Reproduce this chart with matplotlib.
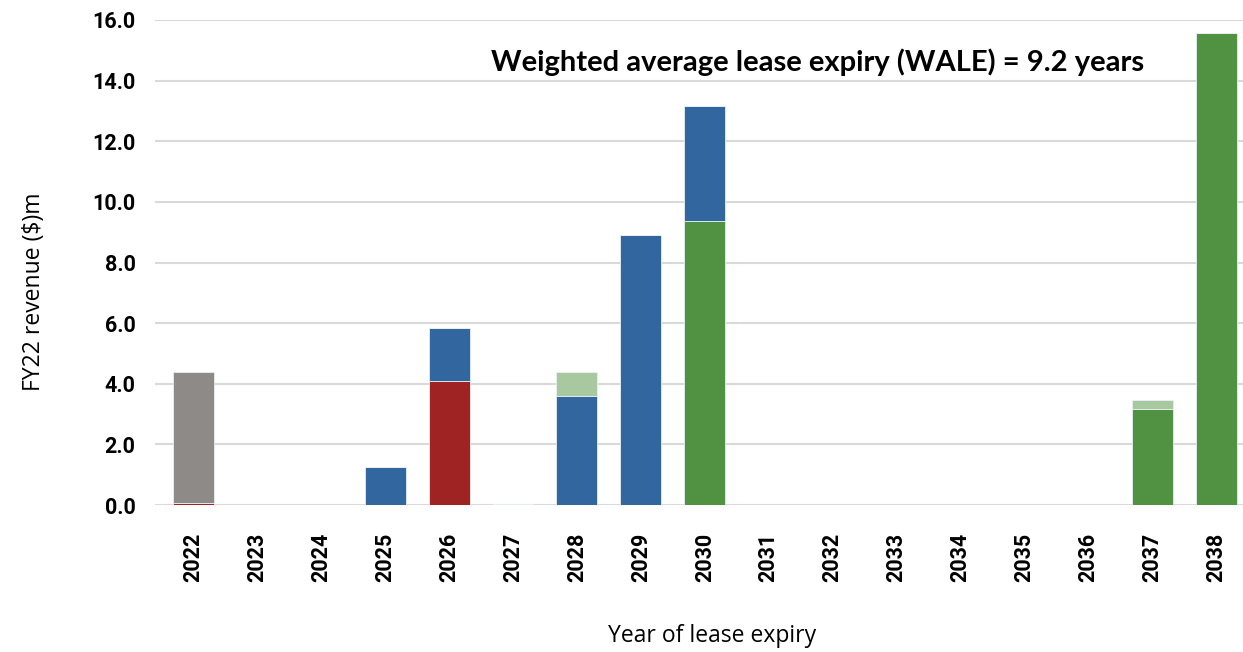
import matplotlib
matplotlib.use("Agg")
import matplotlib.pyplot as plt
import numpy as np

years = [str(y) for y in range(2022, 2039)]
red_vals =        [0.07, 0, 0, 0,    4.09, 0,    0,    0,    0,    0, 0, 0, 0, 0, 0, 0,    0]
green_vals =      [0,    0, 0, 0,    0,    0,    0,    0,    9.36, 0, 0, 0, 0, 0, 0, 3.18, 15.58]
blue_vals =       [0,    0, 0, 1.27, 1.76, 0,    3.61, 8.90, 3.81, 0, 0, 0, 0, 0, 0, 0,    0]
lightgreen_vals = [0,    0, 0, 0,    0,    0.03, 0.77, 0,    0,    0, 0, 0, 0, 0, 0, 0.28, 0]
grey_vals =       [4.33, 0, 0, 0,    0,    0,    0,    0,    0,    0, 0, 0, 0, 0, 0, 0,    0]
yticks = [0, 2, 4, 6, 8, 10, 12, 14, 16]

series = [
    (red_vals, "#A02323"),
    (green_vals, "#519142"),
    (blue_vals, "#31669F"),
    (lightgreen_vals, "#A8C8A0"),
    (grey_vals, "#8E8A88"),
]

fig = plt.figure(figsize=(12.43, 6.52), dpi=100)
ax = fig.add_axes([155/1243, 147/652, 1088/1243, 485/652])

x = np.arange(len(years))
bottom = np.zeros(len(years))
for vals, col in series:
    v = np.array(vals, dtype=float)
    ax.bar(x, v, width=0.64, bottom=bottom, color=col, edgecolor="#E8EEF4", linewidth=0.6, zorder=3)
    bottom += v

ax.set_ylim(0, 16)
ax.set_xlim(-0.6, 16.42)
ax.set_yticks(yticks)
ax.set_yticklabels([f"{t:.1f}" for t in yticks], fontfamily="Roboto", fontweight="bold", fontsize=15.5)
ax.set_xticks(x)
ax.set_xticklabels(years, rotation=90, fontfamily="Roboto", fontweight="bold", fontsize=15.5)
ax.tick_params(axis="y", length=0, pad=14)
ax.tick_params(axis="x", length=0, pad=20)
ax.grid(axis="y", color="#D9D9D9", linewidth=1.5, zorder=0)
ax.set_axisbelow(True)
for s in ax.spines.values():
    s.set_visible(False)

fig.text(34/1243, 1 - 292/652, "FY22 revenue ($)m", rotation=90, ha="center", va="center",
         fontfamily="Open Sans", fontsize=16.5)
fig.text(712/1243, 1 - 636/652, "Year of lease expiry", ha="center", va="center", fontfamily="Open Sans", fontsize=16.5)
fig.text(818/1243, 1 - 62/652, "Weighted average lease expiry (WALE) = 9.2 years", ha="center", va="center",
         fontfamily="Lato", fontweight="bold", fontsize=21)

fig.savefig("out.png", dpi=100)
